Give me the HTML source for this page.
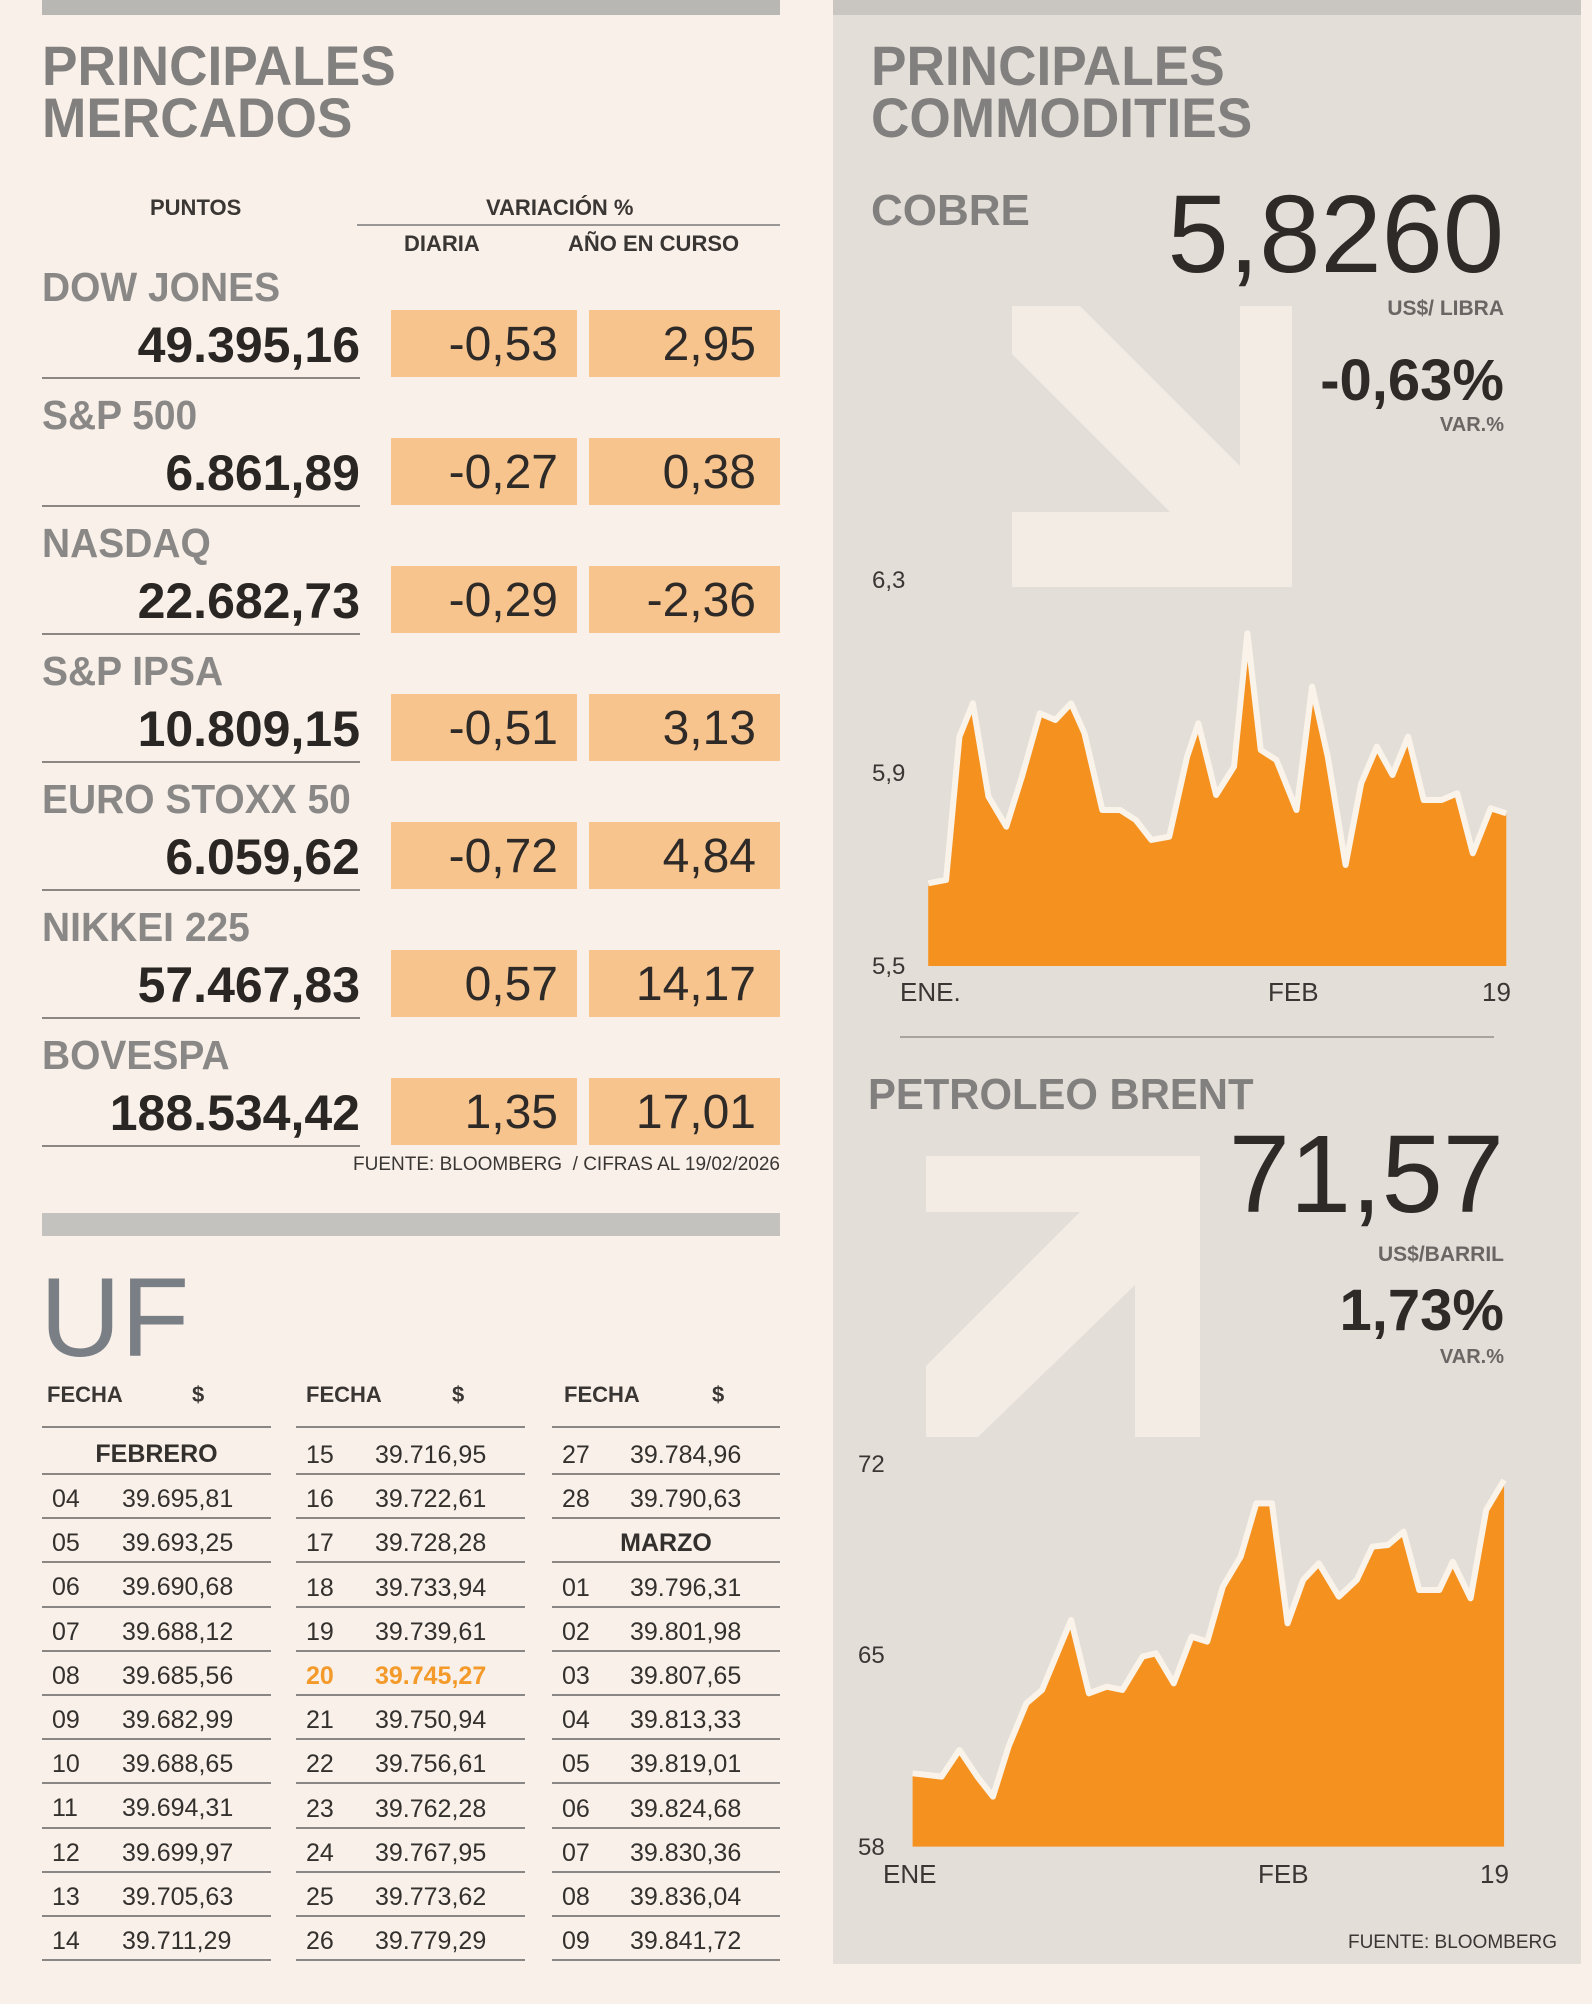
<!DOCTYPE html>
<html><head><meta charset="utf-8">
<style>
*{margin:0;padding:0;box-sizing:border-box}
body{width:1592px;height:2004px;background:#f8f0e9;position:relative;overflow:hidden;font-family:"Liberation Sans Narrow","Liberation Sans",sans-serif;color:#2a2623}
.a{position:absolute;white-space:nowrap}
.t{font-weight:bold;color:#82807e;font-size:56px;line-height:52px;letter-spacing:0px;transform:scaleX(0.95);transform-origin:0 0}
.nm{font-weight:bold;color:#8a8886;font-size:41px;line-height:44px;left:42px;transform:scaleX(0.95);transform-origin:0 0}
.v{font-weight:bold;font-size:50px;line-height:54px;right:1232px;text-align:right}
.box{background:#f8c48e;height:67px}
.bx{font-size:48px;line-height:54px;text-align:right;color:#2e2a27}
.ul{height:2px;background:#8a8684}
.h{font-weight:bold;font-size:22px;line-height:24px;color:#3a3634}
.r{font-size:25px;line-height:28px;color:#33302d}
</style></head><body>
<div class="a" style="left:42px;top:0;width:738px;height:15px;background:#b9b7b4"></div>
<div class="a t" style="left:42px;top:40px">PRINCIPALES<br>MERCADOS</div>
<div class="a h" style="left:150px;top:196px">PUNTOS</div>
<div class="a h" style="left:486px;top:196px">VARIACIÓN %</div>
<div class="a" style="left:357px;top:224px;width:423px;height:2px;background:#9a9694"></div>
<div class="a h" style="left:404px;top:232px">DIARIA</div>
<div class="a h" style="left:568px;top:232px">AÑO EN CURSO</div>

<div class="a nm" style="top:265px">DOW JONES</div>
<div class="a v" style="top:318px">49.395,16</div>
<div class="a box" style="left:391px;top:310px;width:186px"></div><div class="a box" style="left:589px;top:310px;width:191px"></div>
<div class="a bx" style="right:1034px;top:318px">-0,53</div><div class="a bx" style="right:836px;top:318px">2,95</div>
<div class="a ul" style="left:42px;top:377px;width:318px"></div>

<div class="a nm" style="top:393px">S&amp;P 500</div>
<div class="a v" style="top:446px">6.861,89</div>
<div class="a box" style="left:391px;top:438px;width:186px"></div><div class="a box" style="left:589px;top:438px;width:191px"></div>
<div class="a bx" style="right:1034px;top:446px">-0,27</div><div class="a bx" style="right:836px;top:446px">0,38</div>
<div class="a ul" style="left:42px;top:505px;width:318px"></div>

<div class="a nm" style="top:521px">NASDAQ</div>
<div class="a v" style="top:574px">22.682,73</div>
<div class="a box" style="left:391px;top:566px;width:186px"></div><div class="a box" style="left:589px;top:566px;width:191px"></div>
<div class="a bx" style="right:1034px;top:574px">-0,29</div><div class="a bx" style="right:836px;top:574px">-2,36</div>
<div class="a ul" style="left:42px;top:633px;width:318px"></div>

<div class="a nm" style="top:649px">S&amp;P IPSA</div>
<div class="a v" style="top:702px">10.809,15</div>
<div class="a box" style="left:391px;top:694px;width:186px"></div><div class="a box" style="left:589px;top:694px;width:191px"></div>
<div class="a bx" style="right:1034px;top:702px">-0,51</div><div class="a bx" style="right:836px;top:702px">3,13</div>
<div class="a ul" style="left:42px;top:761px;width:318px"></div>

<div class="a nm" style="top:777px">EURO STOXX 50</div>
<div class="a v" style="top:830px">6.059,62</div>
<div class="a box" style="left:391px;top:822px;width:186px"></div><div class="a box" style="left:589px;top:822px;width:191px"></div>
<div class="a bx" style="right:1034px;top:830px">-0,72</div><div class="a bx" style="right:836px;top:830px">4,84</div>
<div class="a ul" style="left:42px;top:889px;width:318px"></div>

<div class="a nm" style="top:905px">NIKKEI 225</div>
<div class="a v" style="top:958px">57.467,83</div>
<div class="a box" style="left:391px;top:950px;width:186px"></div><div class="a box" style="left:589px;top:950px;width:191px"></div>
<div class="a bx" style="right:1034px;top:958px">0,57</div><div class="a bx" style="right:836px;top:958px">14,17</div>
<div class="a ul" style="left:42px;top:1017px;width:318px"></div>

<div class="a nm" style="top:1033px">BOVESPA</div>
<div class="a v" style="top:1086px">188.534,42</div>
<div class="a box" style="left:391px;top:1078px;width:186px"></div><div class="a box" style="left:589px;top:1078px;width:191px"></div>
<div class="a bx" style="right:1034px;top:1086px">1,35</div><div class="a bx" style="right:836px;top:1086px">17,01</div>
<div class="a ul" style="left:42px;top:1145px;width:318px"></div>

<div class="a" style="right:812px;top:1154px;font-size:19px;line-height:22px;color:#3a3634">FUENTE: BLOOMBERG &nbsp;/ CIFRAS AL 19/02/2026</div>

<div class="a" style="left:42px;top:1213px;width:738px;height:23px;background:#c4c2bf"></div>
<div class="a" style="left:40px;top:1262px;font-size:112px;line-height:112px;color:#7a7f85">UF</div>

<div class="a h" style="left:47px;top:1383px">FECHA</div><div class="a h" style="left:192px;top:1383px">$</div>
<div class="a h" style="left:306px;top:1383px">FECHA</div><div class="a h" style="left:452px;top:1383px">$</div>
<div class="a h" style="left:564px;top:1383px">FECHA</div><div class="a h" style="left:712px;top:1383px">$</div>
<div class="a ul" style="left:42px;top:1426px;width:229px"></div>
<div class="a ul" style="left:296px;top:1426px;width:229px"></div>
<div class="a ul" style="left:552px;top:1426px;width:228px"></div>

<div class="a r" style="left:42px;top:1440px;width:229px;text-align:center;font-weight:bold">FEBRERO</div>
<div class="a r" style="left:552px;top:1529px;width:228px;text-align:center;font-weight:bold">MARZO</div>

<div class="a r" style="left:52px;top:1477px;line-height:44.2px">04<br>05<br>06<br>07<br>08<br>09<br>10<br>11<br>12<br>13<br>14</div>
<div class="a r" style="left:122px;top:1477px;line-height:44.2px">39.695,81<br>39.693,25<br>39.690,68<br>39.688,12<br>39.685,56<br>39.682,99<br>39.688,65<br>39.694,31<br>39.699,97<br>39.705,63<br>39.711,29</div>
<div class="a r" style="left:306px;top:1433px;line-height:44.2px">15<br>16<br>17<br>18<br>19<br><b style="color:#f39a2a">20</b><br>21<br>22<br>23<br>24<br>25<br>26</div>
<div class="a r" style="left:375px;top:1433px;line-height:44.2px">39.716,95<br>39.722,61<br>39.728,28<br>39.733,94<br>39.739,61<br><b style="color:#f39a2a">39.745,27</b><br>39.750,94<br>39.756,61<br>39.762,28<br>39.767,95<br>39.773,62<br>39.779,29</div>
<div class="a r" style="left:562px;top:1433px;line-height:44.2px">27<br>28<br>&nbsp;<br>01<br>02<br>03<br>04<br>05<br>06<br>07<br>08<br>09</div>
<div class="a r" style="left:630px;top:1433px;line-height:44.2px">39.784,96<br>39.790,63<br>&nbsp;<br>39.796,31<br>39.801,98<br>39.807,65<br>39.813,33<br>39.819,01<br>39.824,68<br>39.830,36<br>39.836,04<br>39.841,72</div>

<svg class="a" style="left:0;top:0" width="1592" height="2004">
<g stroke="#8a8684" stroke-width="2">
<line x1="42" y1="1474" x2="271" y2="1474"/><line x1="42" y1="1518" x2="271" y2="1518"/><line x1="42" y1="1562" x2="271" y2="1562"/><line x1="42" y1="1607" x2="271" y2="1607"/><line x1="42" y1="1651" x2="271" y2="1651"/><line x1="42" y1="1695" x2="271" y2="1695"/><line x1="42" y1="1739" x2="271" y2="1739"/><line x1="42" y1="1783" x2="271" y2="1783"/><line x1="42" y1="1828" x2="271" y2="1828"/><line x1="42" y1="1872" x2="271" y2="1872"/><line x1="42" y1="1916" x2="271" y2="1916"/><line x1="42" y1="1960" x2="271" y2="1960"/>
<line x1="296" y1="1474" x2="525" y2="1474"/><line x1="296" y1="1518" x2="525" y2="1518"/><line x1="296" y1="1562" x2="525" y2="1562"/><line x1="296" y1="1607" x2="525" y2="1607"/><line x1="296" y1="1651" x2="525" y2="1651"/><line x1="296" y1="1695" x2="525" y2="1695"/><line x1="296" y1="1739" x2="525" y2="1739"/><line x1="296" y1="1783" x2="525" y2="1783"/><line x1="296" y1="1828" x2="525" y2="1828"/><line x1="296" y1="1872" x2="525" y2="1872"/><line x1="296" y1="1916" x2="525" y2="1916"/><line x1="296" y1="1960" x2="525" y2="1960"/>
<line x1="552" y1="1474" x2="780" y2="1474"/><line x1="552" y1="1518" x2="780" y2="1518"/><line x1="552" y1="1562" x2="780" y2="1562"/><line x1="552" y1="1607" x2="780" y2="1607"/><line x1="552" y1="1651" x2="780" y2="1651"/><line x1="552" y1="1695" x2="780" y2="1695"/><line x1="552" y1="1739" x2="780" y2="1739"/><line x1="552" y1="1783" x2="780" y2="1783"/><line x1="552" y1="1828" x2="780" y2="1828"/><line x1="552" y1="1872" x2="780" y2="1872"/><line x1="552" y1="1916" x2="780" y2="1916"/><line x1="552" y1="1960" x2="780" y2="1960"/>
</g>
<rect x="833" y="0" width="748" height="1964" fill="#e4ded9"/>
<rect x="833" y="0" width="748" height="15" fill="#c9c5c1"/>
<polygon points="1012,306 1080,306 1240,466 1240,306 1292,306 1292,587 1012,587 1012,512 1170,512 1012,354" fill="#f2ece5"/>
<polygon points="926,1437 926,1366 1080,1212 926,1212 926,1156 1200,1156 1200,1437 1135,1437 1135,1285 978,1437" fill="#f2ece5"/>
<line x1="900" y1="1037" x2="1494" y2="1037" stroke="#a8a4a0" stroke-width="2"/>
<g transform="translate(830,550) scale(0.4464,0.3333)">
<polygon fill="#f5921f" points="220,1248 220,1000 260,990 290,560 320,460 355,740 395,830 430,680 470,490 505,510 540,460 570,550 610,780 650,780 685,810 720,870 760,860 800,620 825,520 865,735 905,650 935,250 965,600 1000,630 1045,780 1080,410 1115,620 1155,945 1190,700 1225,590 1260,675 1295,560 1330,750 1370,750 1405,730 1440,910 1480,775 1515,790 1515,1248"/>
<polyline fill="none" stroke="#faf3ea" stroke-width="6" vector-effect="non-scaling-stroke" stroke-linejoin="round" points="220,1000 260,990 290,560 320,460 355,740 395,830 430,680 470,490 505,510 540,460 570,550 610,780 650,780 685,810 720,870 760,860 800,620 825,520 865,735 905,650 935,250 965,600 1000,630 1045,780 1080,410 1115,620 1155,945 1190,700 1225,590 1260,675 1295,560 1330,750 1370,750 1405,730 1440,910 1480,775 1515,790"/>
</g>
<g transform="translate(830,1430) scale(0.4464,0.3333)">
<polygon fill="#f5921f" points="185,1250 185,1030 250,1040 290,960 330,1040 365,1100 400,950 440,820 475,780 540,570 580,790 620,770 655,780 700,680 730,670 770,760 810,620 845,635 880,470 920,380 955,220 990,220 1025,580 1060,450 1095,400 1140,500 1180,450 1215,350 1250,345 1285,305 1320,480 1365,480 1395,395 1435,505 1470,240 1510,150 1510,1250"/>
<polyline fill="none" stroke="#faf3ea" stroke-width="6" vector-effect="non-scaling-stroke" stroke-linejoin="round" points="185,1030 250,1040 290,960 330,1040 365,1100 400,950 440,820 475,780 540,570 580,790 620,770 655,780 700,680 730,670 770,760 810,620 845,635 880,470 920,380 955,220 990,220 1025,580 1060,450 1095,400 1140,500 1180,450 1215,350 1250,345 1285,305 1320,480 1365,480 1395,395 1435,505 1470,240 1510,150"/>
</g>
</svg>

<div class="a t" style="left:871px;top:40px">PRINCIPALES<br>COMMODITIES</div>
<div class="a" style="left:871px;top:188px;font-weight:bold;font-size:44px;line-height:46px;color:#82807e">COBRE</div>
<div class="a" style="right:88px;top:180px;font-size:110px;line-height:110px;color:#2e2a27">5,8260</div>
<div class="a" style="right:88px;top:297px;font-weight:bold;font-size:21px;line-height:24px;color:#6a6664">US$/ LIBRA</div>
<div class="a" style="right:88px;top:350px;font-weight:bold;font-size:58px;line-height:62px;color:#2e2a27">-0,63%</div>
<div class="a" style="right:88px;top:414px;font-weight:bold;font-size:20px;line-height:22px;color:#6a6664">VAR.%</div>
<div class="a" style="left:872px;top:568px;font-size:24px;line-height:26px;color:#3a3634">6,3</div>
<div class="a" style="left:872px;top:761px;font-size:24px;line-height:26px;color:#3a3634">5,9</div>
<div class="a" style="left:872px;top:954px;font-size:24px;line-height:26px;color:#3a3634">5,5</div>
<div class="a" style="left:900px;top:978px;font-size:26px;line-height:28px;color:#3a3634">ENE.</div>
<div class="a" style="left:1268px;top:978px;font-size:26px;line-height:28px;color:#3a3634">FEB</div>
<div class="a" style="left:1482px;top:978px;font-size:26px;line-height:28px;color:#3a3634">19</div>

<div class="a" style="left:868px;top:1072px;font-weight:bold;font-size:44px;line-height:46px;color:#82807e;transform:scaleX(0.95);transform-origin:0 0">PETROLEO BRENT</div>
<div class="a" style="right:88px;top:1120px;font-size:110px;line-height:110px;color:#2e2a27">71,57</div>
<div class="a" style="right:88px;top:1243px;font-weight:bold;font-size:21px;line-height:24px;color:#6a6664">US$/BARRIL</div>
<div class="a" style="right:88px;top:1280px;font-weight:bold;font-size:58px;line-height:62px;color:#2e2a27">1,73%</div>
<div class="a" style="right:88px;top:1346px;font-weight:bold;font-size:20px;line-height:22px;color:#6a6664">VAR.%</div>
<div class="a" style="left:858px;top:1452px;font-size:24px;line-height:26px;color:#3a3634">72</div>
<div class="a" style="left:858px;top:1643px;font-size:24px;line-height:26px;color:#3a3634">65</div>
<div class="a" style="left:858px;top:1835px;font-size:24px;line-height:26px;color:#3a3634">58</div>
<div class="a" style="left:883px;top:1860px;font-size:26px;line-height:28px;color:#3a3634">ENE</div>
<div class="a" style="left:1258px;top:1860px;font-size:26px;line-height:28px;color:#3a3634">FEB</div>
<div class="a" style="left:1480px;top:1860px;font-size:26px;line-height:28px;color:#3a3634">19</div>
<div class="a" style="right:35px;top:1932px;font-size:19px;line-height:22px;color:#3a3634">FUENTE: BLOOMBERG</div>
</body></html>
